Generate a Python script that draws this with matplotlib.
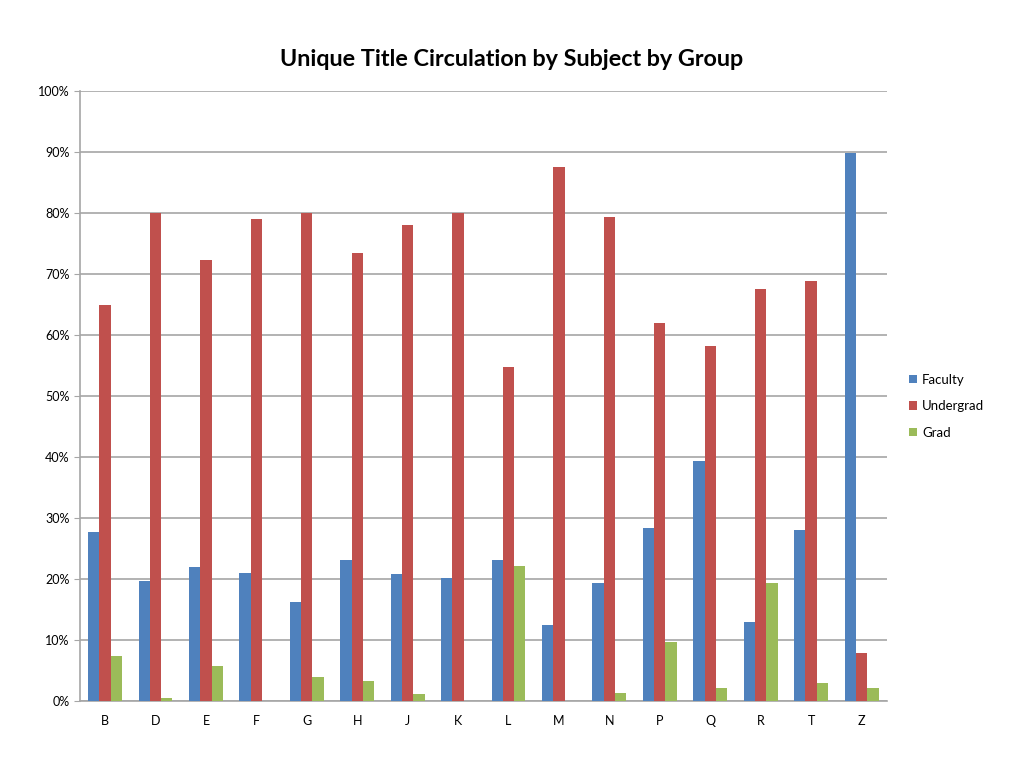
import numpy as np
import matplotlib
matplotlib.use('Agg')
import matplotlib.pyplot as plt
from matplotlib.ticker import PercentFormatter

subjects = ['B', 'D', 'E', 'F', 'G', 'H', 'J', 'K', 'L', 'M', 'N', 'P', 'Q', 'R', 'T', 'Z']
faculty = [27.7, 19.6, 21.9, 21.0, 16.2, 23.1, 20.8, 20.2, 23.1, 12.4, 19.3, 28.3, 39.4, 13.0, 28.1, 89.8]
undergrad = [65.0, 80.0, 72.3, 79.0, 80.0, 73.5, 78.0, 80.0, 54.7, 87.6, 79.3, 62.0, 58.2, 67.6, 68.8, 7.9]
grad = [7.4, 0.5, 5.7, 0.0, 3.9, 3.3, 1.1, 0.0, 22.1, 0.0, 1.3, 9.6, 2.2, 19.3, 2.9, 2.2]

series = [('Faculty', faculty, '#4F81BD'),
          ('Undergrad', undergrad, '#C0504D'),
          ('Grad', grad, '#9BBB59')]

plt.rcParams['font.family'] = ['Lato', 'DejaVu Sans']

fig = plt.figure(figsize=(10.24, 7.68), dpi=100)
ax = fig.add_axes([0.078, 0.0872, 0.788, 0.7943])

x = np.arange(len(subjects))
w = 0.224
for i, (name, vals, col) in enumerate(series):
    ax.bar(x + (i - 1) * w, vals, w, color=col, label=name, zorder=3)

ax.set_xlim(-0.5, len(subjects) - 0.5)
ax.set_ylim(0, 100)
ax.set_yticks(np.arange(0, 101, 10))
ax.yaxis.set_major_formatter(PercentFormatter(decimals=0))
ax.set_xticks(x)
ax.set_xticklabels(subjects)
ax.grid(axis='y', color='#A6A6A6', linewidth=1.2, zorder=0)

for s in ['top', 'right']:
    ax.spines[s].set_visible(False)
for s in ['left', 'bottom']:
    ax.spines[s].set_color('#A6A6A6')
    ax.spines[s].set_linewidth(1.2)
ax.tick_params(axis='both', labelsize=9, colors='#A6A6A6', labelcolor='black', length=4)
ax.tick_params(axis='x', length=0, pad=10)

fig.text(0.5, 0.922, 'Unique Title Circulation by Subject by Group',
         ha='center', va='center', fontsize=16.8, fontweight='bold')

fig.legend(loc='center left', bbox_to_anchor=(0.876, 0.471), frameon=False,
           fontsize=9.5, handlelength=0.6, handleheight=0.6, handletextpad=0.4,
           labelspacing=1.1)

plt.savefig('out.png', dpi=100)
